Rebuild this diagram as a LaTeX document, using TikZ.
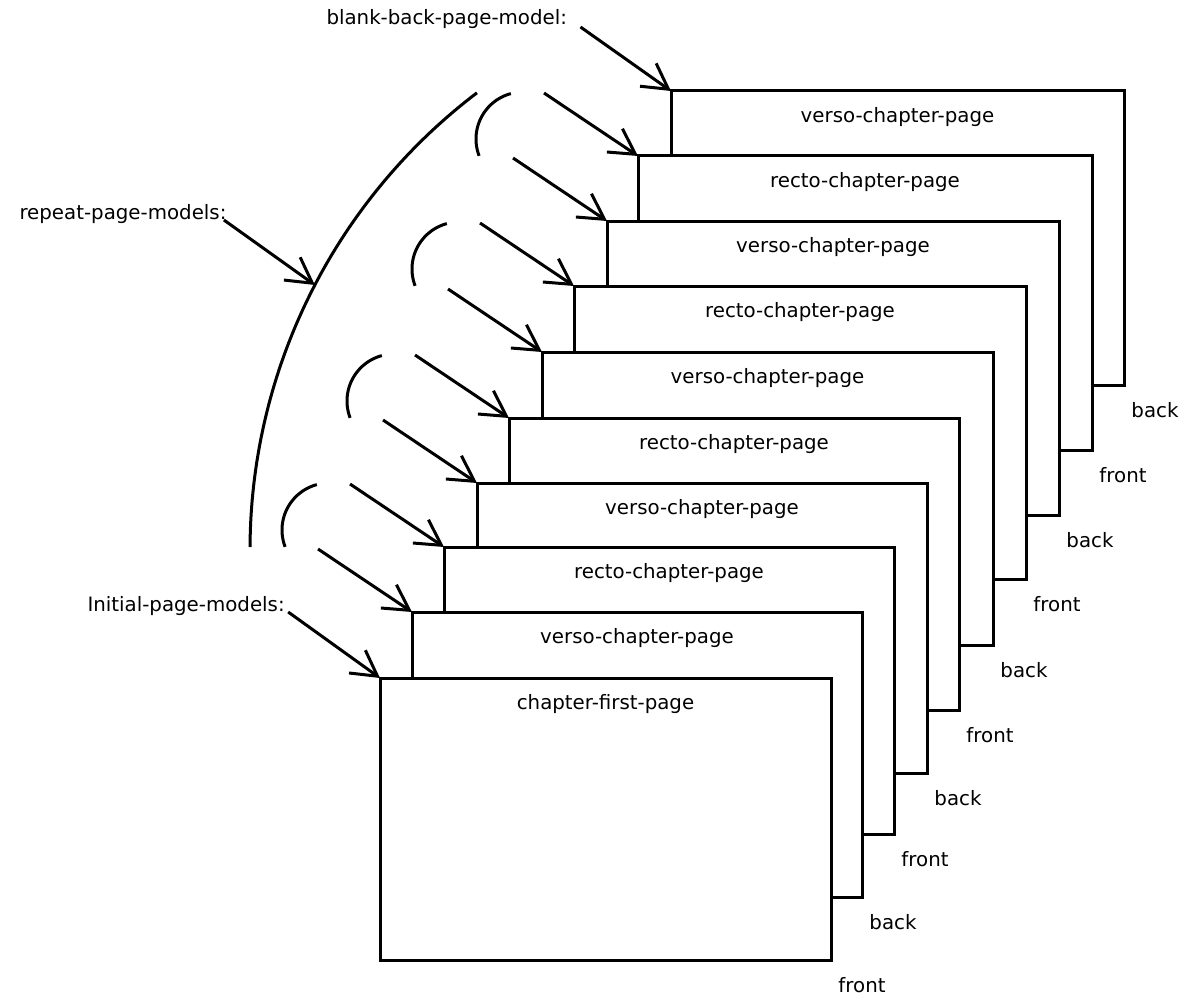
\documentclass[tikz,border=0pt]{standalone}
\usepackage{fontspec}
\setmainfont{DejaVu Sans}
\usetikzlibrary{arrows.meta,calc}
\begin{document}
\begin{tikzpicture}[x=0.5pt,y=-0.5pt,
  line width=1.5pt,
  pagebox/.style={draw=black, fill=white, rectangle, inner sep=0pt, outer sep=0pt, line width=1.5pt},
  txt/.style={font=\fontsize{9.9pt}{12pt}\selectfont, text=black, inner sep=0pt},
  pagetext/.style={txt, anchor=base},
  sidetext/.style={txt, anchor=base},
  lbltext/.style={txt, anchor=base west},
  arr/.style={-{Straight Barb[length=12.5pt,width=14pt]}, line width=1.5pt},
  bracket/.style={line width=1.5pt}
]
\useasboundingbox (0,0) rectangle (1194,995);

% pages, from back to front
\foreach \i/\l/\t/\r/\b/\txt/\side in {
  1/671/91/1124/385/verso-chapter-page/back,
  2/638/156/1092/450/recto-chapter-page/front,
  3/607/221/1059/515/verso-chapter-page/back,
  4/574/286/1026/579/recto-chapter-page/front,
  5/542/352/993/645/verso-chapter-page/back,
  6/509/418/959/710/recto-chapter-page/front,
  7/477/483/927/773/verso-chapter-page/back,
  8/444/547/894/834/recto-chapter-page/front,
  9/412/612/862/897/verso-chapter-page/back,
  10/380/678/831/960/chapter-first-page/front}{
  \node[pagebox, anchor=north west,
        minimum width={(\r-\l)*0.5pt}, minimum height={(\b-\t)*0.5pt}] (p\i) at (\l,\t) {};
  \node[pagetext] (t\i) at ($(p\i.north)+(0,31.5)$) {\txt};
  \node[sidetext] (s\i) at ($(p\i.south east)+(31,32)$) {\side};
}

% labels
\node[lbltext] (lbl1) at (325,25) {blank-back-page-model:};
\node[lbltext] (lblr) at (18,220) {repeat-page-models:};
\node[lbltext] (lbl10) at (86,611) {Initial-page-models:};

% arrows to each page corner
\coordinate (a1) at ($(lbl1.base east)+(12,2)$);
\draw[arr] (a1) -- (p1.north west);
\foreach \i in {2,...,9}{
  \coordinate (a\i) at ($(p\i.north west)+(-94,-63)$);
  \draw[arr] (a\i) -- (p\i.north west);
}
\coordinate (a10) at ($(lbl10.base east)+(2,1)$);
\draw[arr] (a10) -- (p10.north west);

% small brackets grouping recto/verso pairs
\foreach \i in {2,4,6,8}{
  \draw[bracket, shift={($(p\i.north west)+(-115,-17)$)}]
    plot[domain=159:255, samples=40, smooth] ({47*cos(\x)},{47*sin(\x)});
}

% large bracket for the repeated page models
\draw[bracket] plot[domain=180.3:232.8, samples=80, smooth] ({824+574*cos(\x)},{550+574*sin(\x)});
\coordinate (rp) at ({824+574*cos(207.5)},{550+574*sin(207.5)});
\coordinate (ar) at ($(lblr.base east)+(-4,0)$);
\draw[arr] (ar) -- (rp);
\end{tikzpicture}
\end{document}
